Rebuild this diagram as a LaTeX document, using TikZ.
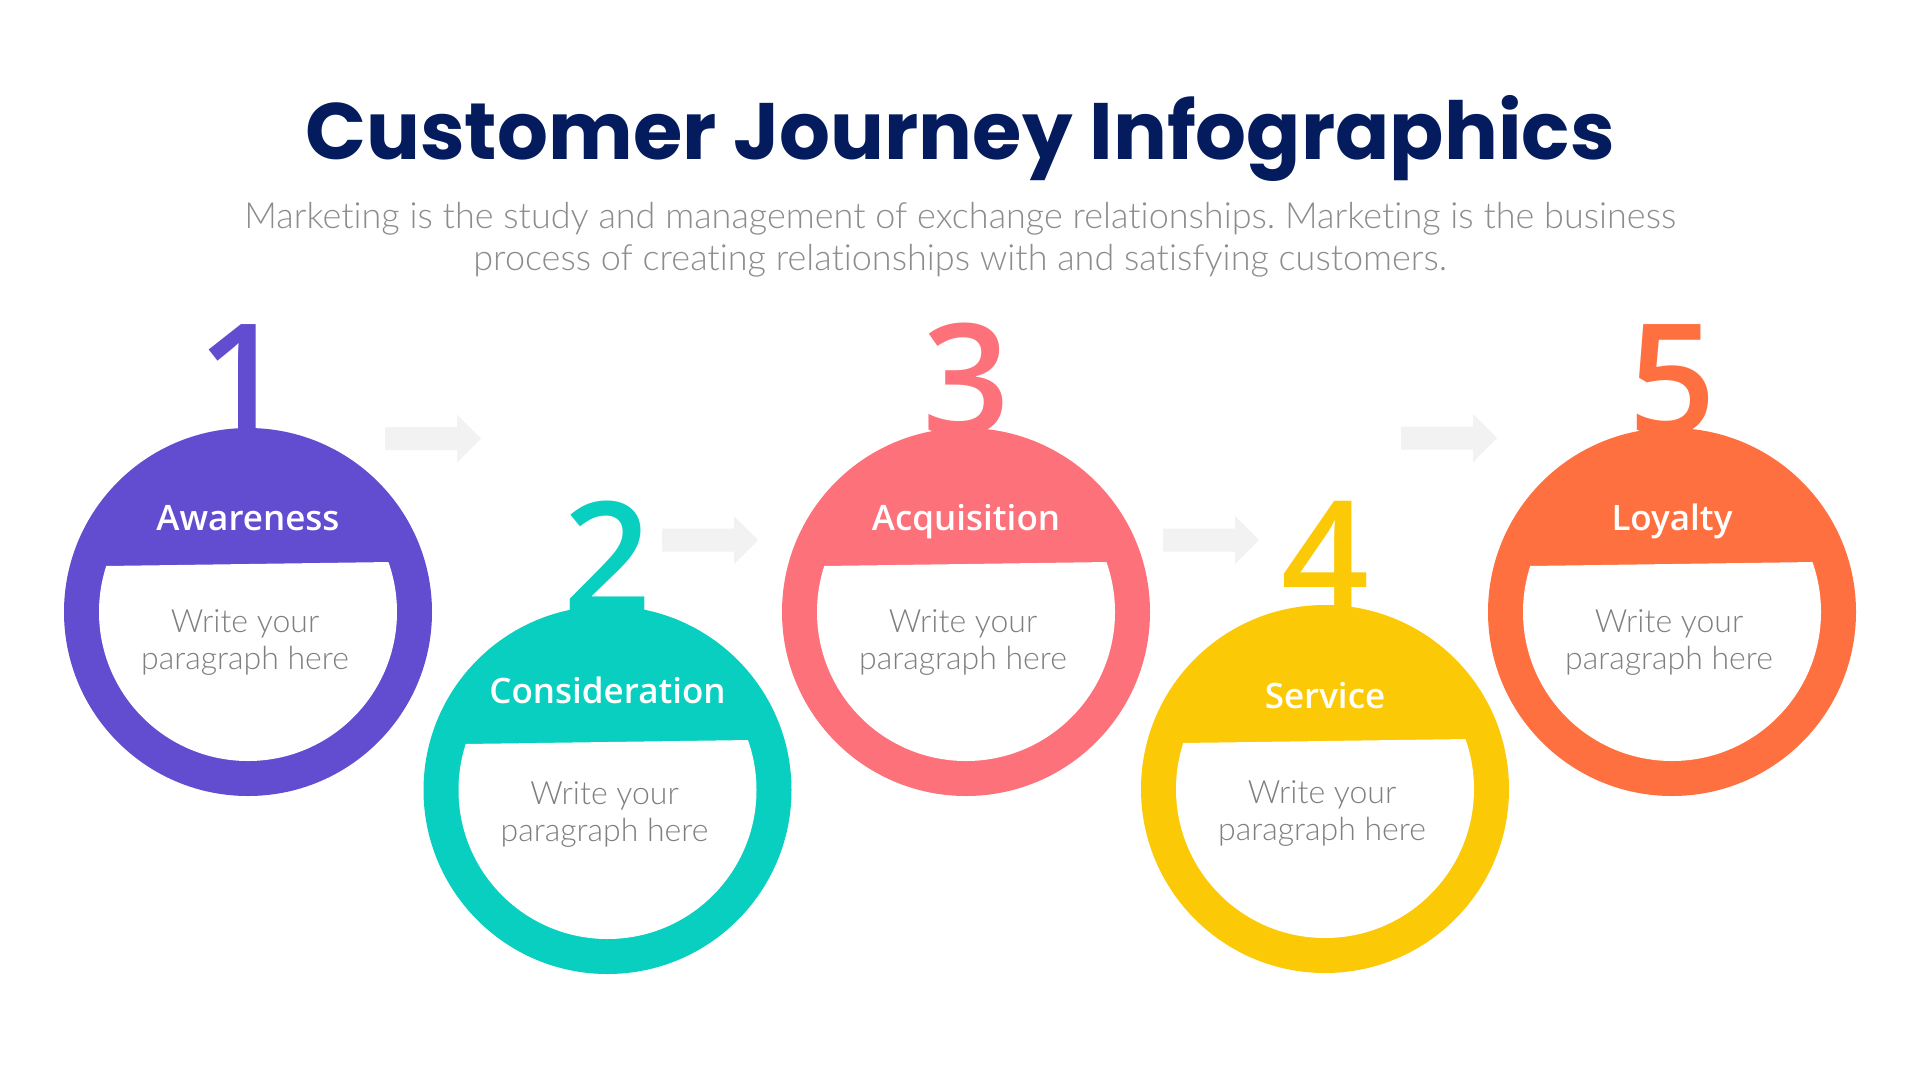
\documentclass[tikz,border=0pt]{standalone}
\usepackage{fontspec}
\setmainfont{Lato}
\frenchspacing
\newfontfamily\titlefont{Poppins}[UprightFont=* Bold]
\newfontfamily\numfont{Open Sans}[UprightFont=* Semibold]
\newfontfamily\labfont{Open Sans}[UprightFont=* Semibold]
\newfontfamily\parfont{Lato}[UprightFont=* Light, Ligatures={NoCommon}]
\definecolor{navy}{HTML}{041C5E}
\definecolor{subgray}{HTML}{8C8C8C}
\definecolor{pargray}{HTML}{7F7F7F}
\definecolor{arrowgray}{HTML}{F2F2F2}
\definecolor{cpurple}{HTML}{624CD0}
\definecolor{cteal}{HTML}{08CFC0}
\definecolor{ccoral}{HTML}{FC717A}
\definecolor{cyellow}{HTML}{FBC906}
\definecolor{corange}{HTML}{FF7040}
\tikzset{
  titletxt/.style={text=navy, font=\titlefont\fontsize{80}{96}\selectfont, inner sep=0},
  subtxt/.style={text=subgray, font=\parfont\fontsize{36}{42}\selectfont, inner sep=0},
  numtxt/.style={font=\numfont\fontsize{154}{170}\selectfont, inner sep=0},
  labtxt/.style={text=white, font=\labfont\fontsize{35}{40}\selectfont, inner sep=0},
  partxt/.style={text=pargray, font=\parfont\fontsize{32}{36}\selectfont, inner sep=0},
  ring/.style={circle, fill=#1, minimum size=368pt, inner sep=0, draw=none},
  flow/.style={fill=arrowgray, draw=none}
}
% #1 name, #2 cx, #3 cy, #4 colour, #5 digit, #6 label, #7 label baseline offset, #8 digit xshift, #9 paragraph baseline offset
\newcommand\jstep[9]{%
  \begin{scope}[shift={(#2,#3)}]
    \node[numtxt, text=#4, anchor=base] (#1num) at (#8,-178) {#5};
    \node[ring=#4] (#1ring) at (0,0) {};
    \begin{scope}
      \clip (-200,-45.2) -- (200,-50.8) -- (200,200) -- (-200,200) -- cycle;
      \fill[white] (0,0) circle[radius=149];
    \end{scope}
    \node[labtxt, anchor=base] (#1lab) at (0,#7) {#6};
    \node[partxt, anchor=base] (#1p1) at (-3,#9) {Write your};
    \node[partxt, anchor=base] (#1p2) at (-3,#9+37) {paragraph here};
  \end{scope}}
% #1 x start, #2 centre y
\newcommand\jarrow[2]{%
  \fill[flow] (#1,#2-11.5) -- (#1+72,#2-11.5) -- (#1+72,#2-24) -- (#1+96,#2)
    -- (#1+72,#2+24) -- (#1+72,#2+11.5) -- (#1,#2+11.5) -- cycle;}
\begin{document}
\begin{tikzpicture}[x=1pt,y=-1pt]
  \useasboundingbox (0,0) rectangle (1920,1080);
  \fill[white] (0,0) rectangle (1920,1080);
  \node[titletxt, anchor=base] (title) at (960,159) {Customer Journey Infographics};
  \node[subtxt, anchor=base] (sub1) at (960,228) {Marketing is the study and management of exchange relationships. Marketing is the business};
  \node[subtxt, anchor=base] (sub2) at (960,270) {process of creating relationships with and satisfying customers.};

  \jarrow{385}{438.5}
  \jarrow{662}{540}
  \jarrow{1163}{540}
  \jarrow{1401}{438}

  \jstep{s1}{248}{612}{cpurple}{1}{Awareness}{-82}{-7}{20}
  \jstep{s2}{607.5}{790}{cteal}{2}{Consideration}{-87}{0}{14}
  \jstep{s3}{966}{612}{ccoral}{3}{Acquisition}{-82}{0}{20}
  \jstep{s4}{1325}{789}{cyellow}{4}{Service}{-81}{0}{14}
  \jstep{s5}{1672}{612}{corange}{5}{Loyalty}{-82}{0}{20}
\end{tikzpicture}
\end{document}
